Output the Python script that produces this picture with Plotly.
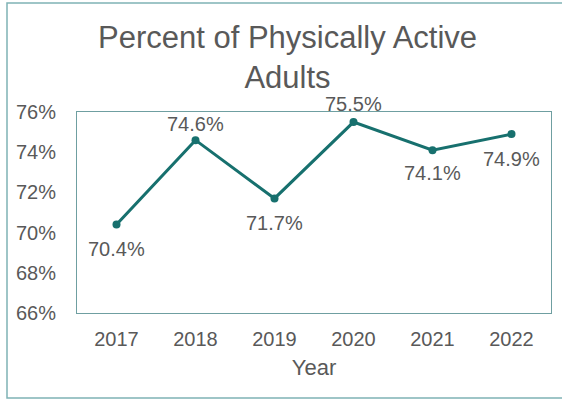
import plotly.graph_objects as go

years = ["2017", "2018", "2019", "2020", "2021", "2022"]
active_pct = [70.4, 74.6, 71.7, 75.5, 74.1, 74.9]
label_shift = [-24, 16, -25, 18, -23, -25]   # px offset of each value label

teal = "#17706e"
grey_text = "#595959"
font_family = "Liberation Sans, Arial, sans-serif"

fig = go.Figure()
fig.add_trace(go.Scatter(
    x=list(range(len(years))), y=active_pct, mode="lines+markers",
    line=dict(color=teal, width=3),
    marker=dict(color=teal, size=8),
    hoverinfo="skip", showlegend=False,
))

for i, (v, dy) in enumerate(zip(active_pct, label_shift)):
    fig.add_annotation(
        x=i, y=v, text=f"{v:.1f}%", showarrow=False, yshift=dy,
        font=dict(size=20, color=grey_text, family=font_family),
    )

# chart title
fig.add_annotation(
    xref="paper", yref="paper", x=0.445, y=(313 - 57) / 201,
    xanchor="center", yanchor="middle", showarrow=False,
    text="Percent of Physically Active<br>Adults",
    font=dict(size=31, color=grey_text, family=font_family),
)

# outer chart frame
fig.add_shape(type="rect", xref="paper", yref="paper",
              x0=-70 / 474, x1=1.1, y0=-85 / 201, y1=310 / 201,
              line=dict(color="#7fb3b5", width=1.5), layer="below")

fig.update_layout(
    width=562, height=402,
    margin=dict(l=77, r=11, t=112, b=89),
    paper_bgcolor="white", plot_bgcolor="white",
    font=dict(family=font_family, color=grey_text),
)
fig.update_xaxes(
    tickmode="array", tickvals=list(range(len(years))), ticktext=years,
    range=[-0.5, 5.5],
    showgrid=False, zeroline=False, ticks="", showline=True,
    linecolor="#6f9fa1", linewidth=1, mirror=True,
    tickfont=dict(size=20, color=grey_text),
    ticklabelstandoff=8,
    title=dict(text="Year", font=dict(size=22, color=grey_text), standoff=10),
)
fig.update_yaxes(
    range=[66, 76], dtick=2, ticksuffix="%",
    showgrid=False, ticks="", showline=True, linecolor="#6f9fa1",
    linewidth=1, mirror=True, zeroline=False,
    tickfont=dict(size=20, color=grey_text),
    ticklabelstandoff=16,
)

fig.write_html("out.html")
